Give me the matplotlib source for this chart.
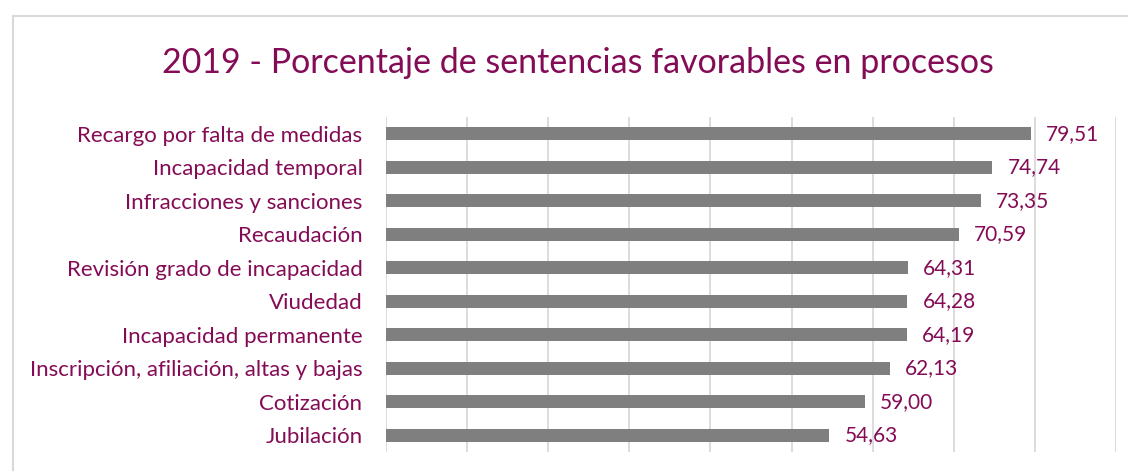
import matplotlib.pyplot as plt
from matplotlib.lines import Line2D

categories = ["Recargo por falta de medidas", "Incapacidad temporal", "Infracciones y sanciones",
              "Recaudación", "Revisión grado de incapacidad", "Viudedad", "Incapacidad permanente",
              "Inscripción, afiliación, altas y bajas", "Cotización", "Jubilación"]
values = [79.51, 74.74, 73.35, 70.59, 64.31, 64.28, 64.19, 62.13, 59.00, 54.63]
value_labels = ["79,51", "74,74", "73,35", "70,59", "64,31", "64,28", "64,19", "62,13", "59,00", "54,63"]

maroon = "#840B55"
plt.rcParams['font.family'] = ['Lato', 'DejaVu Sans']

fig = plt.figure(figsize=(11.28, 4.71), dpi=100)
ax = fig.add_axes([386 / 1128, 1 - 452 / 471, (1116 - 386) / 1128, (452 - 117) / 471])

pos = list(range(len(categories)))[::-1]
ax.barh(pos, values, height=0.385, color="#7F7F7F", zorder=2)
for p, v, t in zip(pos, values, value_labels):
    ax.text(v + 1.9, p, t, va="center", ha="left", color=maroon, fontsize=15)

ax.set_xlim(0, 90)
ax.set_ylim(-0.5, 9.5)
ax.set_xticks(range(0, 91, 10))
ax.set_xticklabels([])
ax.set_yticks(pos)
ax.set_yticklabels(categories, color=maroon, fontsize=16)
ax.tick_params(axis="both", length=0)
ax.tick_params(axis="y", pad=17)
ax.grid(axis="x", color="#D9D9D9", linewidth=1.3, zorder=0)
for s in ax.spines.values():
    s.set_visible(False)

fig.text(0.512, 1 - 63 / 471, "2019 - Porcentaje de sentencias favorables en procesos",
         ha="center", va="center", color=maroon, fontsize=24.5)

# chart border (left and top edges visible)
fig.add_artist(Line2D([13 / 1128, 13 / 1128], [0, 1 - 16 / 471], color="#D9D9D9", linewidth=1.5))
fig.add_artist(Line2D([13 / 1128, 1], [1 - 16 / 471, 1 - 16 / 471], color="#D9D9D9", linewidth=1.5))

fig.savefig("out.png", dpi=100)
